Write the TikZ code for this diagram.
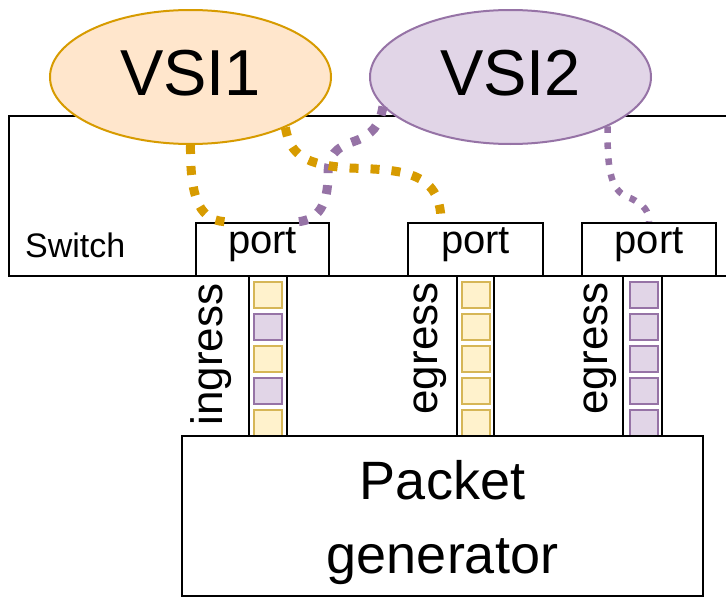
\documentclass[tikz,border=0pt]{standalone}
\usepackage{fontspec}
\setmainfont{Liberation Sans}
\usetikzlibrary{shapes.geometric}
\definecolor{orfill}{HTML}{FFE6CC}
\definecolor{orline}{HTML}{D79B00}
\definecolor{pufill}{HTML}{E1D5E7}
\definecolor{puline}{HTML}{9673A6}
\definecolor{yefill}{HTML}{FFF2CC}
\definecolor{yeline}{HTML}{D6B656}
\begin{document}
\begin{tikzpicture}[x=1pt,y=-1pt,
  box/.style={draw=black,line width=2.6pt,fill=white,inner sep=0pt},
  vsi/.style={ellipse,line width=2pt,minimum width=281pt,minimum height=134pt,inner sep=0pt,
    text height=50pt,text depth=14pt,font=\fontsize{65}{70}\selectfont},
  portbox/.style={box,minimum height=53pt,text height=30pt,text depth=23pt,
    font=\fontsize{40}{44}\selectfont},
  queue/.style={draw=black,line width=2.4pt,minimum width=#1,minimum height=160pt,inner sep=0pt},
  ycell/.style={draw=yeline,fill=yefill,line width=2.2pt,minimum width=28pt,minimum height=26pt,inner sep=0pt},
  pcell/.style={draw=puline,fill=pufill,line width=2.2pt,minimum width=28pt,minimum height=26pt,inner sep=0pt},
  qlabel/.style={rotate=90,anchor=base,inner sep=0pt,font=\fontsize{44}{48}\selectfont},
  wireo/.style={draw=orline,line width=9pt,dash pattern=on 9pt off 12pt},
  wirep/.style={draw=puline,line width=9pt,dash pattern=on 9pt off 12pt},
  wirept/.style={draw=puline,line width=6.5pt,dash pattern=on 6.5pt off 9.5pt},
  pgtext/.style={anchor=base,inner sep=0pt,font=\fontsize{54}{60}\selectfont}]
\clip (0,0) rectangle (726,597);

% switch
\node[box,minimum width=731pt,minimum height=160pt] (switch) at (374.5,196) {};
\node[anchor=base west,inner sep=0pt,font=\fontsize{34}{38}\selectfont] (switchlbl) at (25,257) {Switch};

% VSIs
\node[vsi,draw=orline,fill=orfill] (vsi1) at (190.5,77) {VSI1};
\node[vsi,draw=puline,fill=pufill] (vsi2) at (510.5,77) {VSI2};

% ports
\node[portbox,minimum width=133pt] (port1) at (262.5,249.5) {port};
\node[portbox,minimum width=135pt] (port2) at (475.5,249.5) {port};
\node[portbox,minimum width=134pt] (port3) at (649,249.5) {port};

% queues
\node[queue=38pt] (q1) at (268,356) {};
\node[queue=37pt] (q2) at (475.5,356) {};
\node[queue=39pt] (q3) at (642.5,356) {};

\node[ycell] (q1c1) at (268,295) {};
\node[pcell] (q1c2) at (268,327) {};
\node[ycell] (q1c3) at (268,359) {};
\node[pcell] (q1c4) at (268,391) {};
\node[ycell] (q1c5) at (268,423) {};

\foreach \y [count=\i] in {295,327,359,391,423} {
  \node[ycell] (q2c\i) at (476,\y) {};
  \node[pcell] (q3c\i) at (644,\y) {};
}

\node[qlabel] (ingress) at (222,354.5) {ingress};
\node[qlabel] (egress2) at (437,348.5) {egress};
\node[qlabel] (egress3) at (607,348.5) {egress};

% packet generator
\node[box,minimum width=521pt,minimum height=160pt] (pg) at (442.5,516) {};
\node[pgtext] (pgt1) at (442.5,499) {Packet};
\node[pgtext] (pgt2) at (442.5,573) {generator};

% wire end points
\coordinate (w1e) at ([xshift=-32.5pt]port1.north);
\coordinate (w2e) at ([xshift=35.5pt]port1.north);
\coordinate (w3e) at ([xshift=-34.5pt]port2.north);
\coordinate (w4e) at (port3.north);

% wires
\draw[wireo] (vsi1.south) .. controls (190,200) and (200,223) .. (w1e);
\draw[wirep] (vsi2.193) .. controls (380,125) and (372,135) .. (355,141)
   .. controls (335,148) and (328,155) .. (328,175)
   .. controls (328,205) and (318,220) .. (w2e);
\draw[wireo] (vsi1.332) .. controls (290,155) and (305,165) .. (350,168)
   .. controls (400,170) and (441,170) .. (w3e);
\draw[wirept] (vsi2.333) .. controls (607,175) and (612,192) .. (630,198)
   .. controls (645,205) and (649,212) .. (w4e);
\end{tikzpicture}
\end{document}
